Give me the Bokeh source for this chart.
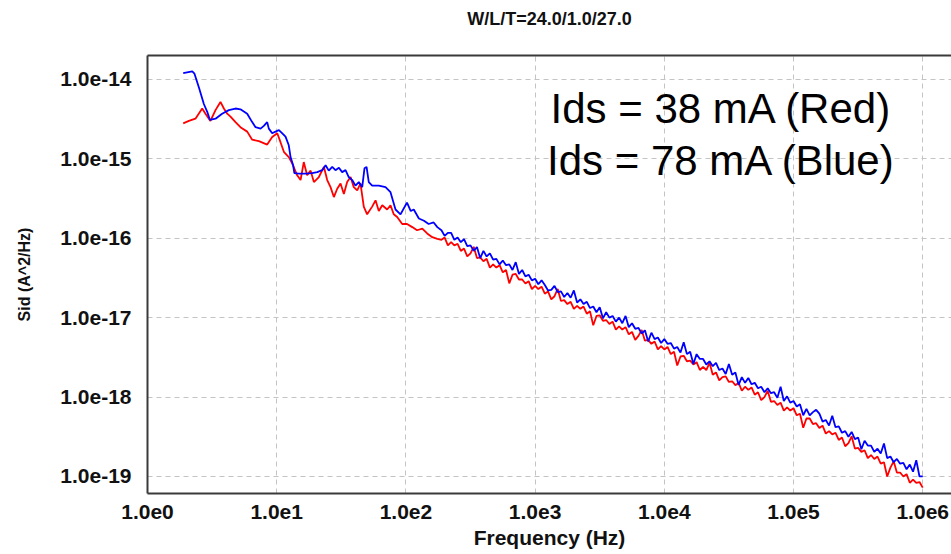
from bokeh.plotting import figure
from bokeh.models import Range1d, FixedTicker, CustomJSTickFormatter, Label, LogAxis
from bokeh.embed import file_html
from bokeh.resources import INLINE

# ---------------- data ----------------
title_text = "W/L/T=24.0/1.0/27.0"
x_label = "Frequency (Hz)"
y_label = "Sid (A^2/Hz)"
note_red = "Ids = 38 mA (Red)"
note_blue = "Ids = 78 mA (Blue)"

x_ticks = [1e0, 1e1, 1e2, 1e3, 1e4, 1e5, 1e6]
y_ticks = [1e-19, 1e-18, 1e-17, 1e-16, 1e-15, 1e-14]

# low-frequency part (read point by point)
blue_lo_f = [1.89, 2.22, 2.31, 2.50, 2.73, 2.90, 3.04, 3.36, 3.78, 4.26, 4.80, 5.24, 5.91, 6.46,
             6.86, 7.50, 7.95, 8.44, 8.69, 9.23, 9.79, 10.4, 11.0, 11.7, 12.4, 12.8, 13.4, 13.7,
             14.8, 16.7, 18.8, 20.6, 22.5, 23.9, 25.3, 26.9, 28.5, 30.3, 32.1, 34.1, 36.1, 38.4,
             40.7, 43.2, 45.9, 47.8, 49.6, 51.6, 54.8, 61.7, 69.5, 76.0, 83.1, 90.8, 99.3, 102,
             109, 115, 126, 138, 150, 164, 175]
blue_lo_s = [1.2e-14, 1.26e-14, 1.18e-14, 7.9e-15, 4.9e-15, 3.9e-15, 3.1e-15, 3.2e-15, 3.7e-15,
             4.1e-15, 4.3e-15, 4.2e-15, 3.7e-15, 2.9e-15, 2.5e-15, 2.4e-15, 2.6e-15, 2.9e-15,
             2.4e-15, 2.1e-15, 2.2e-15, 2.3e-15, 2.1e-15, 1.9e-15, 1.48e-15, 1.05e-15, 8.3e-16,
             6.6e-16, 6.5e-16, 6.5e-16, 6.6e-16, 6.8e-16, 7.2e-16, 8.3e-16, 7.1e-16, 7.9e-16,
             7.2e-16, 7.7e-16, 6.8e-16, 7.2e-16, 5.9e-16, 5.4e-16, 4.6e-16, 5.1e-16, 4.4e-16,
             7.6e-16, 7.9e-16, 5.1e-16, 4.6e-16, 4.6e-16, 4.4e-16, 3.8e-16, 2.3e-16, 2.0e-16,
             2.6e-16, 2.8e-16, 2.2e-16, 2.3e-16, 1.77e-16, 1.66e-16, 1.51e-16, 1.58e-16, 1.38e-16]

red_lo_f = [1.89, 2.09, 2.35, 2.65, 2.81, 3.07, 3.36, 3.67, 3.90, 4.14, 4.39, 4.80, 5.24, 5.91,
            6.46, 7.28, 8.44, 9.23, 10.1, 10.7, 11.4, 12.4, 13.2, 14.4, 15.3, 16.2, 17.2, 18.3,
            19.4, 21.2, 23.2, 24.6, 26.1, 27.7, 29.4, 31.2, 33.1, 35.1, 37.3, 39.5, 42.0, 44.5,
            47.2, 50.1, 54.8, 58.2, 61.7, 65.6, 71.6, 76.0, 80.5, 85.6, 93.6, 102, 112, 122,
            134, 146, 160, 175]
red_lo_s = [2.8e-15, 3.0e-15, 3.2e-15, 4.3e-15, 3.7e-15, 3.0e-15, 4.1e-15, 5.2e-15, 4.3e-15,
            3.7e-15, 3.4e-15, 2.9e-15, 2.5e-15, 2.2e-15, 1.74e-15, 1.67e-15, 1.51e-15, 1.88e-15,
            2.1e-15, 1.62e-15, 1.21e-15, 1.05e-15, 8.7e-16, 6.2e-16, 5.4e-16, 9.1e-16, 6.2e-16,
            7.1e-16, 5.1e-16, 5.9e-16, 7.9e-16, 5.4e-16, 4.4e-16, 3.3e-16, 4.2e-16, 4.9e-16,
            3.6e-16, 5.1e-16, 5.9e-16, 4.4e-16, 4.0e-16, 4.9e-16, 2.5e-16, 2.0e-16, 2.5e-16,
            3.0e-16, 2.2e-16, 2.6e-16, 2.3e-16, 2.6e-16, 2.0e-16, 1.85e-16, 1.51e-16, 1.51e-16,
            1.38e-16, 1.26e-16, 1.32e-16, 1.15e-16, 1.03e-16, 9.8e-17]

# high-frequency part (shared frequency points)
hi_f = [188.4, 199.5, 211.3, 223.9, 237.1, 251.2, 266.1, 281.8, 298.5, 316.2, 335.0, 354.8,
        375.8, 398.1, 421.7, 446.7, 473.2, 501.2, 530.9, 562.3, 595.7, 631.0, 668.3, 707.9,
        749.9, 794.3, 841.4, 891.3, 944.1,
        1.000e3, 1.059e3, 1.122e3, 1.189e3, 1.259e3, 1.334e3, 1.413e3, 1.496e3, 1.585e3, 1.679e3,
        1.778e3, 1.884e3, 1.995e3, 2.113e3, 2.239e3, 2.371e3, 2.512e3, 2.661e3, 2.818e3, 2.985e3,
        3.162e3, 3.350e3, 3.548e3, 3.758e3, 3.981e3, 4.217e3, 4.467e3, 4.732e3, 5.012e3, 5.309e3,
        5.623e3, 5.957e3, 6.310e3, 6.683e3, 7.079e3, 7.499e3, 7.943e3, 8.414e3, 8.913e3, 9.441e3,
        1.000e4, 1.059e4, 1.122e4, 1.189e4, 1.259e4, 1.334e4, 1.413e4, 1.496e4, 1.585e4, 1.679e4,
        1.778e4, 1.884e4, 1.995e4, 2.113e4, 2.239e4, 2.371e4, 2.512e4, 2.661e4, 2.818e4, 2.985e4,
        3.162e4, 3.350e4, 3.548e4, 3.758e4, 3.981e4, 4.217e4, 4.467e4, 4.732e4, 5.012e4, 5.309e4,
        5.623e4, 5.957e4, 6.310e4, 6.683e4, 7.079e4, 7.499e4, 7.943e4, 8.414e4, 8.913e4, 9.441e4,
        1.000e5, 1.059e5, 1.122e5, 1.189e5, 1.259e5, 1.334e5, 1.413e5, 1.496e5, 1.585e5, 1.679e5,
        1.778e5, 1.884e5, 1.995e5, 2.113e5, 2.239e5, 2.371e5, 2.512e5, 2.661e5, 2.818e5, 2.985e5,
        3.162e5, 3.350e5, 3.548e5, 3.758e5, 3.981e5, 4.217e5, 4.467e5, 4.732e5, 5.012e5, 5.309e5,
        5.623e5, 5.957e5, 6.310e5, 6.683e5, 7.079e5, 7.499e5, 7.943e5, 8.414e5, 8.913e5, 9.441e5,
        1.000e6]

blue_hi_s = [1.26e-16, 1.07e-16, 1.17e-16, 1.17e-16, 9.55e-17, 1.02e-16, 8.91e-17, 9.77e-17, 7.94e-17, 8.13e-17,
             6.92e-17, 7.76e-17, 5.60e-17, 6.92e-17, 5.89e-17, 6.46e-17, 5.37e-17, 5.50e-17, 4.68e-17, 5.25e-17,
             4.57e-17, 4.68e-17, 3.98e-17, 5.00e-17, 3.55e-17, 3.98e-17, 3.31e-17, 3.47e-17, 2.95e-17, 3.09e-17,
             2.63e-17, 2.95e-17, 2.57e-17, 2.20e-17, 2.24e-17, 2.51e-17, 2.09e-17, 2.14e-17, 1.82e-17, 2.04e-17,
             1.78e-17, 2.20e-17, 1.55e-17, 1.70e-17, 1.48e-17, 1.58e-17, 1.32e-17, 1.38e-17, 1.17e-17, 1.35e-17,
             9.80e-18, 1.17e-17, 1.00e-17, 1.05e-17, 8.91e-18, 1.00e-17, 8.51e-18, 1.05e-17, 7.59e-18, 8.51e-18,
             7.24e-18, 7.41e-18, 6.31e-18, 6.92e-18, 5.00e-18, 6.46e-18, 5.37e-18, 5.62e-18, 4.79e-18, 5.37e-18,
             4.68e-18, 4.79e-18, 4.07e-18, 4.27e-18, 3.63e-18, 4.90e-18, 3.47e-18, 3.72e-18, 2.60e-18, 3.47e-18,
             3.02e-18, 3.02e-18, 2.57e-18, 2.82e-18, 2.45e-18, 2.69e-18, 2.19e-18, 2.29e-18, 1.95e-18, 2.60e-18,
             1.91e-18, 2.04e-18, 1.42e-18, 1.78e-18, 1.51e-18, 1.74e-18, 1.45e-18, 1.51e-18, 1.29e-18, 1.35e-18,
             1.15e-18, 1.29e-18, 1.12e-18, 1.15e-18, 9.77e-19, 1.35e-18, 8.91e-19, 1.02e-18, 8.51e-19, 8.91e-19,
             7.59e-19, 8.13e-19, 5.90e-19, 7.08e-19, 5.89e-19, 6.46e-19, 6.90e-19, 6.17e-19, 4.90e-19, 5.13e-19,
             4.37e-19, 5.80e-19, 4.17e-19, 4.27e-19, 3.55e-19, 3.72e-19, 3.16e-19, 3.63e-19, 2.95e-19, 3.09e-19,
             2.20e-19, 2.82e-19, 2.45e-19, 2.45e-19, 2.04e-19, 2.24e-19, 1.95e-19, 2.60e-19, 1.70e-19, 1.78e-19,
             1.51e-19, 1.66e-19, 1.45e-19, 1.48e-19, 1.23e-19, 1.41e-19, 1.15e-19, 1.60e-19, 1.00e-19, 1.00e-19]

red_hi_s = [9.55e-17, 1.02e-16, 8.13e-17, 8.91e-17, 8.13e-17, 8.51e-17, 6.92e-17, 7.41e-17, 5.89e-17, 6.46e-17,
            7.80e-17, 5.62e-17, 5.75e-17, 5.13e-17, 5.50e-17, 4.27e-17, 4.68e-17, 4.27e-17, 4.57e-17, 3.72e-17,
            3.98e-17, 2.70e-17, 3.47e-17, 3.55e-17, 3.02e-17, 3.02e-17, 2.69e-17, 2.88e-17, 2.29e-17, 2.51e-17,
            2.29e-17, 2.45e-17, 2.00e-17, 2.14e-17, 1.70e-17, 1.86e-17, 2.30e-17, 1.62e-17, 1.66e-17, 1.48e-17,
            1.58e-17, 1.29e-17, 1.41e-17, 1.29e-17, 1.38e-17, 1.12e-17, 1.20e-17, 8.00e-18, 1.05e-17, 1.07e-17,
            9.12e-18, 9.33e-18, 8.32e-18, 8.91e-18, 7.08e-18, 7.76e-18, 7.08e-18, 7.59e-18, 6.17e-18, 6.61e-18,
            5.25e-18, 5.89e-18, 7.00e-18, 5.13e-18, 5.25e-18, 4.68e-18, 5.01e-18, 3.98e-18, 4.37e-18, 3.98e-18,
            4.27e-18, 3.47e-18, 3.72e-18, 2.50e-18, 3.24e-18, 3.31e-18, 2.82e-18, 2.88e-18, 2.57e-18, 2.75e-18,
            2.19e-18, 2.40e-18, 2.19e-18, 2.70e-18, 1.91e-18, 2.04e-18, 1.62e-18, 1.78e-18, 1.82e-18, 1.55e-18,
            1.58e-18, 1.41e-18, 1.51e-18, 1.20e-18, 1.35e-18, 1.23e-18, 1.32e-18, 1.07e-18, 1.15e-18, 9.12e-19,
            1.00e-18, 1.20e-18, 8.71e-19, 8.91e-19, 7.94e-19, 8.51e-19, 6.76e-19, 7.41e-19, 6.76e-19, 7.24e-19,
            5.89e-19, 6.17e-19, 4.10e-19, 5.37e-19, 5.37e-19, 4.57e-19, 4.68e-19, 4.07e-19, 4.37e-19, 3.47e-19,
            3.72e-19, 3.39e-19, 3.55e-19, 2.88e-19, 3.09e-19, 2.40e-19, 2.63e-19, 3.20e-19, 2.24e-19, 2.29e-19,
            2.04e-19, 2.14e-19, 1.70e-19, 1.86e-19, 1.66e-19, 1.78e-19, 1.45e-19, 1.51e-19, 1.00e-19, 1.29e-19,
            1.55e-19, 1.12e-19, 1.12e-19, 1.00e-19, 1.07e-19, 8.32e-20, 9.12e-20, 8.32e-20, 8.51e-20, 7.24e-20]

blue_f = blue_lo_f + hi_f
blue_s = blue_lo_s + blue_hi_s
red_f = red_lo_f + hi_f
red_s = red_lo_s + red_hi_s

# ---------------- figure ----------------
X_START, X_END = 1.0, 1.67e6
Y_START, Y_END = 6.1e-20, 2.0e-14

p = figure(width=951, height=554, x_axis_type="log", y_axis_type="log",
           x_range=Range1d(X_START, X_END), y_range=Range1d(Y_START, Y_END),
           output_backend="svg", toolbar_location=None,
           min_border_left=147, min_border_right=0, min_border_top=55, min_border_bottom=61)
p.background_fill_color = "white"
p.border_fill_color = "white"
p.outline_line_color = None

fmt = CustomJSTickFormatter(code="return '1.0e' + Math.round(Math.log10(tick));")

for ax, ticks in ((p.xaxis[0], x_ticks), (p.yaxis[0], y_ticks)):
    ax.ticker = FixedTicker(ticks=ticks, minor_ticks=[])
    ax.formatter = fmt
    ax.major_tick_out = 0
    ax.major_tick_in = 0
    ax.minor_tick_out = 0
    ax.minor_tick_in = 0
    ax.axis_line_color = "#3a3a3a"
    ax.axis_line_width = 2
    ax.major_label_text_font = "Liberation Sans"
    ax.major_label_text_font_style = "bold"
    ax.major_label_text_font_size = "21px"
    ax.major_label_text_color = "#111111"
    ax.axis_label_text_font = "Liberation Sans"
    ax.axis_label_text_font_style = "bold"
    ax.axis_label_text_color = "#111111"

p.xaxis[0].axis_label = x_label
p.xaxis[0].axis_label_text_font_size = "21px"
p.xaxis[0].major_label_standoff = 11
p.xaxis[0].axis_label_standoff = 4

p.yaxis[0].axis_label = y_label
p.yaxis[0].axis_label_text_font_size = "16px"
p.yaxis[0].major_label_standoff = 16
p.yaxis[0].axis_label_standoff = 24

# top frame border carrying the chart title as its label
top = LogAxis(ticker=FixedTicker(ticks=[], minor_ticks=[]), axis_label=title_text,
              axis_line_color="#3a3a3a", axis_line_width=2,
              major_tick_out=0, major_tick_in=0, minor_tick_out=0, minor_tick_in=0,
              major_label_text_font_size="0px", major_label_standoff=0,
              axis_label_standoff=27, axis_label_text_font="Liberation Sans",
              axis_label_text_font_style="bold", axis_label_text_font_size="18px",
              axis_label_text_color="#111111")
p.add_layout(top, "above")

for g in (p.xgrid[0], p.ygrid[0]):
    g.grid_line_color = "#c4c4c4"
    g.grid_line_dash = "5 4"
    g.grid_line_width = 1

p.line(red_f, red_s, line_color="#ff0000", line_width=1.8)
p.line(blue_f, blue_s, line_color="#0000ff", line_width=1.8)

for txt, yv in ((note_red, 4.31e-15), (note_blue, 9.6e-16)):
    p.add_layout(Label(x=2.77e4, y=yv, text=txt, text_align="center", text_baseline="middle",
                       text_font="Liberation Sans", text_font_size="42px", text_color="black"))

open("out.html", "w").write(file_html(p, INLINE))
